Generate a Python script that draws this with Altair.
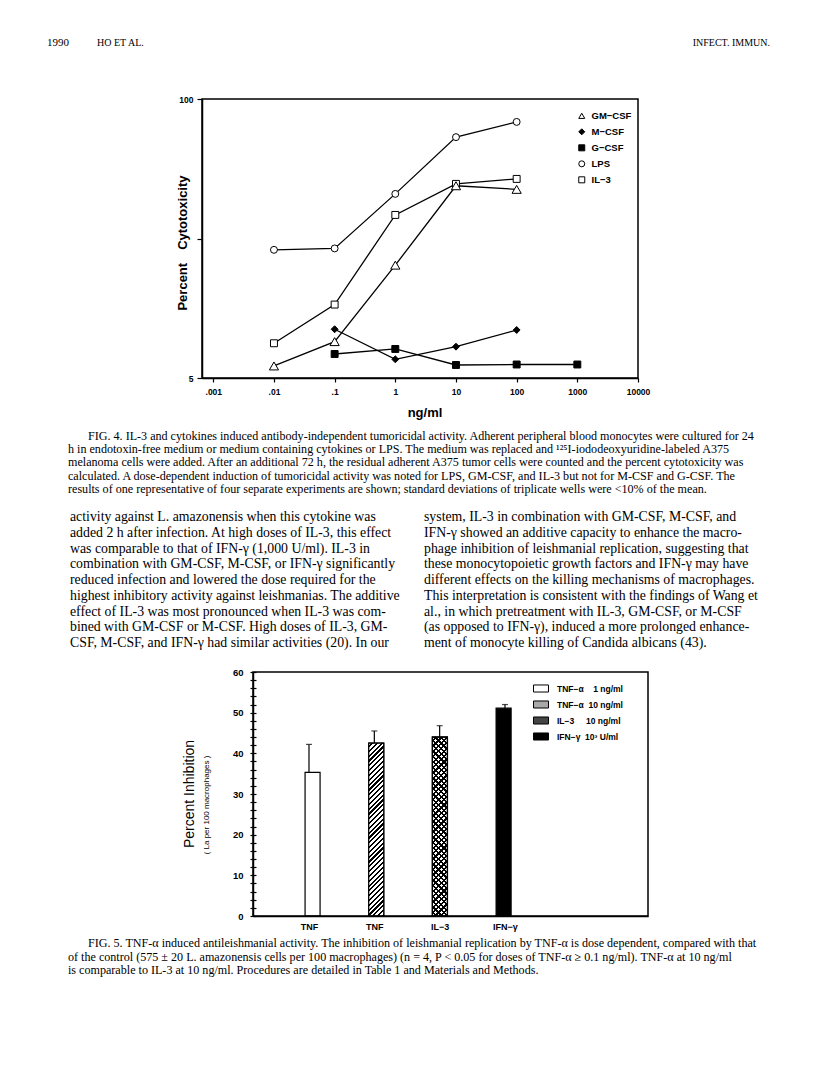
import json
import math
import altair as alt
import pandas as pd

# ---------------- Fig. 4 data ----------------
series_order = ["GM−CSF", "M−CSF", "G−CSF", "LPS", "IL−3"]
series_shapes = ["triangle-up", "diamond", "square", "circle", "square"]
series_fills = ["white", "black", "black", "white", "white"]

gm_doses = [0.01, 0.1, 1, 10, 100]
gm_vals = [5.69, 7.39, 16.8, 39.4, 37.9]
m_doses = [0.1, 1, 10, 100]
m_vals = [8.44, 6.11, 7.0, 8.37]
g_doses = [0.1, 1, 10, 100, 1000]
g_vals = [6.47, 6.83, 5.75, 5.78, 5.78]
lps_doses = [0.01, 0.1, 1, 10, 100]
lps_vals = [19.8, 20.1, 36.1, 66.4, 78.2]
il3_doses = [0.01, 0.1, 1, 10, 100]
il3_vals = [7.26, 11.0, 28.8, 40.2, 42.4]

x_ticks4 = [0.001, 0.01, 0.1, 1, 10, 100, 1000, 10000]
y_ticks4 = [5, 22.36, 100]

# ---------------- Fig. 5 data ----------------
bar_names = ["TNF", "TNF", "IL−3", "IFN−γ"]
bar_keys = ["TNF−α\u00a0\u00a0\u00a0\u00a01 ng/ml", "TNF−α\u00a0\u00a010 ng/ml",
            "IL−3\u00a0\u00a0\u00a0\u00a0\u00a010 ng/ml", "IFN−γ\u00a0\u00a010³ U/ml"]
bar_vals = [35.3, 42.5, 44.0, 51.1]
bar_errs = [42.2, 45.5, 46.8, 52.0]
legend_fills5 = ["white", "#a8a8a8", "#454545", "black"]

# ---------------- text ----------------
header_left = "1990"
header_mid = "HO ET AL."
header_right = "INFECT. IMMUN."

cap4_first = ["FIG. 4. IL-3 and cytokines induced antibody-independent tumoricidal activity. Adherent peripheral blood monocytes were cultured for 24"]
cap4_rest = [
    "h in endotoxin-free medium or medium containing cytokines or LPS. The medium was replaced and ¹²⁵I-iododeoxyuridine-labeled A375",
    "melanoma cells were added. After an additional 72 h, the residual adherent A375 tumor cells were counted and the percent cytotoxicity was",
    "calculated. A dose-dependent induction of tumoricidal activity was noted for LPS, GM-CSF, and IL-3 but not for M-CSF and G-CSF. The",
    "results of one representative of four separate experiments are shown; standard deviations of triplicate wells were <10% of the mean.",
]
body_left = [
    "activity against L. amazonensis when this cytokine was",
    "added 2 h after infection. At high doses of IL-3, this effect",
    "was comparable to that of IFN-γ (1,000 U/ml). IL-3 in",
    "combination with GM-CSF, M-CSF, or IFN-γ significantly",
    "reduced infection and lowered the dose required for the",
    "highest inhibitory activity against leishmanias. The additive",
    "effect of IL-3 was most pronounced when IL-3 was com-",
    "bined with GM-CSF or M-CSF. High doses of IL-3, GM-",
    "CSF, M-CSF, and IFN-γ had similar activities (20). In our",
]
body_right = [
    "system, IL-3 in combination with GM-CSF, M-CSF, and",
    "IFN-γ showed an additive capacity to enhance the macro-",
    "phage inhibition of leishmanial replication, suggesting that",
    "these monocytopoietic growth factors and IFN-γ may have",
    "different effects on the killing mechanisms of macrophages.",
    "This interpretation is consistent with the findings of Wang et",
    "al., in which pretreatment with IL-3, GM-CSF, or M-CSF",
    "(as opposed to IFN-γ), induced a more prolonged enhance-",
    "ment of monocyte killing of Candida albicans (43).",
]
cap5_first = ["FIG. 5. TNF-α induced antileishmanial activity. The inhibition of leishmanial replication by TNF-α is dose dependent, compared with that"]
cap5_rest = [
    "of the control (575 ± 20 L. amazonensis cells per 100 macrophages) (n = 4, P < 0.05 for doses of TNF-α ≥ 0.1 ng/ml). TNF-α at 10 ng/ml",
    "is comparable to IL-3 at 10 ng/ml. Procedures are detailed in Table 1 and Materials and Methods.",
]

SANS = "Liberation Sans"
SERIF = "Liberation Serif"

# ---------------- layout constants (pixels, relative to Fig. 4 plot origin) ----------------
W4, H4 = 436, 279
F5_X0, F5_X1 = 51, 446
F5_Y0, F5_Y1 = 573, 817
F5_XDOM = [-0.857, 5.189]
F5_YDOM = [0, 60]
BAR_W = 15

# ---------------- Fig. 4 ----------------
rows = []
for name, ds, vs in zip(series_order,
                        [gm_doses, m_doses, g_doses, lps_doses, il3_doses],
                        [gm_vals, m_vals, g_vals, lps_vals, il3_vals]):
    for d, v in zip(ds, vs):
        rows.append({"series": name, "dose": d, "pct": v})
df4 = pd.DataFrame(rows)

x4_scale = alt.Scale(type="log", domain=[10 ** -3.186, 10000], nice=False)
y4_scale = alt.Scale(type="log", domain=[5, 100], nice=False)

lines4 = alt.Chart(df4).mark_line(color="black", strokeWidth=1.3).encode(
    x=alt.X("dose:Q", scale=x4_scale, axis=None),
    y=alt.Y("pct:Q", scale=y4_scale, axis=None),
    detail="series:N",
)

leg4 = alt.Legend(title=None, orient="none", legendX=375, legendY=9, symbolSize=36,
                  symbolStrokeWidth=1, labelFont=SANS,
                  labelFontWeight="bold", labelFontSize=9.5, labelColor="black",
                  labelOffset=5, clipHeight=15.65, rowPadding=0, padding=0)

points4 = alt.Chart(df4).mark_point(filled=False, color="black", strokeWidth=1, size=48, opacity=1).encode(
    x=alt.X("dose:Q", scale=x4_scale, axis=None),
    y=alt.Y("pct:Q", scale=y4_scale, axis=None),
    shape=alt.Shape("series:N", scale=alt.Scale(domain=series_order, range=series_shapes), legend=leg4),
    fill=alt.Fill("series:N", scale=alt.Scale(domain=series_order, range=series_fills), legend=leg4),
    stroke=alt.Stroke("series:N", scale=alt.Scale(domain=series_order, range=["black"] * len(series_order)), legend=leg4),
)

# GM-CSF triangles are drawn a little larger in the original
tri4 = alt.Chart(df4).transform_filter(alt.datum.series == series_order[0]).mark_point(
    shape="triangle-up", size=85, filled=True, fill="white", stroke="black", strokeWidth=1, opacity=1).encode(
    x=alt.X("dose:Q", scale=x4_scale, axis=None),
    y=alt.Y("pct:Q", scale=y4_scale, axis=None),
)

# axes of Fig. 4 carried by an invisible layer on the same scales
axes4 = alt.Chart(df4).mark_point(opacity=0).encode(
    x=alt.X("dose:Q", scale=x4_scale, title=None,
            axis=alt.Axis(values=x_ticks4, orient="bottom", labelFlush=False, labelOverlap=False,
                          labelExpr="datum.value < 1 ? replace(datum.label, '0.', '.') : datum.label",
                          format="~g", tickSize=4, labelPadding=5, labelFontSize=8.5, labelFont=SANS,
                          labelFontWeight="bold", domain=True, zindex=1)),
    y=alt.Y("pct:Q", scale=y4_scale, title=None,
            axis=alt.Axis(values=y_ticks4, orient="left", labelOverlap=False,
                          labelExpr="datum.value < 6 ? '5' : (datum.value > 90 ? '100' : '')",
                          tickSize=5, labelPadding=4, labelFontSize=8.5, labelFont=SANS,
                          labelFontWeight="bold", zindex=1)),
)

# ---------------- Fig. 5 ----------------
df5 = pd.DataFrame({"idx": list(range(len(bar_vals))), "val": bar_vals, "err": bar_errs,
                    "key": bar_keys, "name": bar_names})

x5_scale = alt.Scale(domain=F5_XDOM, range=[F5_X0, F5_X1], nice=False, zero=False)
y5_scale = alt.Scale(domain=F5_YDOM, range=[F5_Y1, F5_Y0], nice=False, zero=False)
px_per_unit = (F5_Y1 - F5_Y0) / (F5_YDOM[1] - F5_YDOM[0])

def stripes(w, h, period, frac, direction, bg):
    D = (w + h) / math.sqrt(2)
    t = (w + h) / (w * w / h + h)
    n = D / period
    stops = []
    k = 0
    while k / n < 1:
        a = k / n
        b = min((k + frac) / n, 1)
        c = min((k + 1) / n, 1)
        stops += [alt.GradientStop(offset=a, color=bg), alt.GradientStop(offset=b, color=bg),
                  alt.GradientStop(offset=b, color="black"), alt.GradientStop(offset=c, color="black")]
        k += 1
    if direction == "/":
        return alt.LinearGradient(gradient="linear", stops=stops, x1=0, y1=0, x2=w / h * t, y2=t)
    return alt.LinearGradient(gradient="linear", stops=stops, x1=0, y1=1, x2=w / h * t, y2=1 - t)

nbars = len(bar_names)
x5_names = json.dumps(bar_names, ensure_ascii=False)

bars = alt.Chart(df5).mark_bar(size=BAR_W, orient="vertical", stroke="black", strokeWidth=1.2).encode(
    x=alt.X("idx:Q", scale=x5_scale, axis=None),
    y=alt.Y("val:Q", scale=y5_scale, axis=None),
    y2=alt.Y2(datum=0),
    fill=alt.Fill("key:N", scale=alt.Scale(domain=bar_keys, range=legend_fills5),
                  legend=alt.Legend(title=None, orient="none", legendX=331, legendY=581.5,
                                    symbolType="M-1,-0.47H1V0.47H-1Z", symbolSize=225,
                                    symbolStrokeColor="black", symbolStrokeWidth=1,
                                    labelFont=SANS, labelFontWeight="bold", labelFontSize=8.5,
                                    labelColor="black", labelOffset=8, clipHeight=16,
                                    rowPadding=0, padding=0)),
)

axes5 = alt.Chart(df5).mark_point(opacity=0).encode(
    x=alt.X("idx:Q", scale=x5_scale, title=None,
            axis=alt.Axis(values=list(range(nbars)), orient="bottom", offset=F5_Y1 - H4,
                          labelExpr=f"{x5_names}[round(datum.value)]", tickSize=0, labelPadding=6,
                          labelFontSize=9, labelFont=SANS, labelFontWeight="bold",
                          labelFlush=False, labelOverlap=False, zindex=1)),
    y=alt.Y("val:Q", scale=y5_scale, title=None,
            axis=alt.Axis(values=list(range(0, 61, 2)), orient="left", offset=-F5_X0,
                          labelExpr="datum.value % 10 == 0 ? datum.label : ''", labelOverlap=False,
                          tickSize=3, labelPadding=7, labelFontSize=9.5, labelFont=SANS,
                          labelFontWeight="bold", zindex=1)),
)

def hatch_layer(i, direction, bg, frac, period, stroke=True):
    h = bar_vals[i] * px_per_unit
    grad = stripes(BAR_W, h, period, frac, direction, bg)
    return alt.Chart(df5).transform_filter(alt.datum.idx == i).mark_bar(
        size=BAR_W, orient="vertical", fill=grad,
        stroke="black" if stroke else "transparent", strokeWidth=1.2).encode(
        x=alt.X("idx:Q", scale=x5_scale, axis=None),
        y=alt.Y("val:Q", scale=y5_scale, axis=None),
        y2=alt.Y2(datum=0),
    )

hatch2 = hatch_layer(1, "/", "white", 0.55, 3.4)
hatch3a = hatch_layer(2, "/", "white", 0.58, 3.8)
hatch3b = hatch_layer(2, "\\", "rgba(0,0,0,0)", 0.58, 3.8)

err_rules = alt.Chart(df5).mark_rule(color="black", strokeWidth=1.2).encode(
    x=alt.X("idx:Q", scale=x5_scale, axis=None),
    y=alt.Y("val:Q", scale=y5_scale, axis=None),
    y2="err:Q",
)
err_caps = alt.Chart(df5).mark_tick(orient="horizontal", size=6, thickness=1.2, color="black").encode(
    x=alt.X("idx:Q", scale=x5_scale, axis=None),
    y=alt.Y("err:Q", scale=y5_scale, title=None,
            axis=alt.Axis(values=list(range(0, 61, 2)), orient="right", offset=F5_X0 - W4,
                          labels=False, domain=False, tickSize=3)),
)
frame5 = alt.Chart(pd.DataFrame({"k": [0]})).mark_rect(fill="white", fillOpacity=0, stroke="black", strokeWidth=1.5).encode(
    x=alt.X(datum=F5_XDOM[0], type="quantitative", scale=x5_scale, axis=None),
    x2=alt.X2(datum=F5_XDOM[1]),
    y=alt.Y(datum=F5_YDOM[0], type="quantitative", scale=y5_scale, axis=None),
    y2=alt.Y2(datum=F5_YDOM[1]),
)

# ---------------- text blocks ----------------
one = pd.DataFrame({"k": [0]})

def text_block(lines, x, y, size, lh, font, align="left", weight="normal", angle=0, baseline="alphabetic"):
    return alt.Chart(one).mark_text(align=align, baseline=baseline, font=font, fontSize=size,
                                    lineHeight=lh, fontWeight=weight, angle=angle, color="black").encode(
        x=alt.value(x), y=alt.value(y), text=alt.value(lines))

texts = [
    text_block([header_left], -155, -53, 11, 12, SERIF),
    text_block([header_mid], -105, -53, 10, 12, SERIF),
    text_block([header_right], 568, -53, 10, 12, SERIF, align="right"),
    text_block(["Percent\u2003Cytotoxicity"], -19, 144, 13, 14, SANS, align="center", weight="bold", angle=270, baseline="middle"),
    text_block(["ng/ml"], 223, 314, 13, 14, SANS, align="center", weight="bold", baseline="middle"),
    text_block(cap4_first, -114, 341, 12.1, 13.2, SERIF),
    text_block(cap4_rest, -134, 354.2, 12.1, 13.2, SERIF),
    text_block(body_left, -132, 422, 13.8, 15.75, SERIF),
    text_block(body_right, 222, 422, 13.8, 15.75, SERIF),
    text_block(["Percent Inhibition"], -12, 695, 14, 15, SANS, align="center", angle=270, baseline="middle"),
    text_block(["( La per 100 macrophages )"], 5, 706, 8, 9, SANS, align="center", angle=270, baseline="middle"),
    text_block(cap5_first, -114, 848, 12.1, 13.5, SERIF),
    text_block(cap5_rest, -134, 861.5, 12.1, 13.5, SERIF),
]

chart = alt.layer(
    lines4, points4, tri4, axes4,
    bars, hatch2, hatch3a, hatch3b, err_rules, err_caps, frame5, axes5,
    *texts
).resolve_scale(
    x="independent", y="independent", fill="independent", shape="independent",
    stroke="independent"
).properties(
    width=W4, height=H4,
    padding={"left": 194, "top": 91, "right": 160, "bottom": 630},
    autosize=alt.AutoSizeParams(type="none"),
    background="white",
).configure_view(
    stroke="black", strokeWidth=1.5
).configure_axis(
    domainColor="black", domainWidth=1.5, tickColor="black", tickWidth=1.2,
    labelColor="black", grid=False, titleColor="black"
)

chart.save("out.html", embed_options={"renderer": "svg", "actions": False})
